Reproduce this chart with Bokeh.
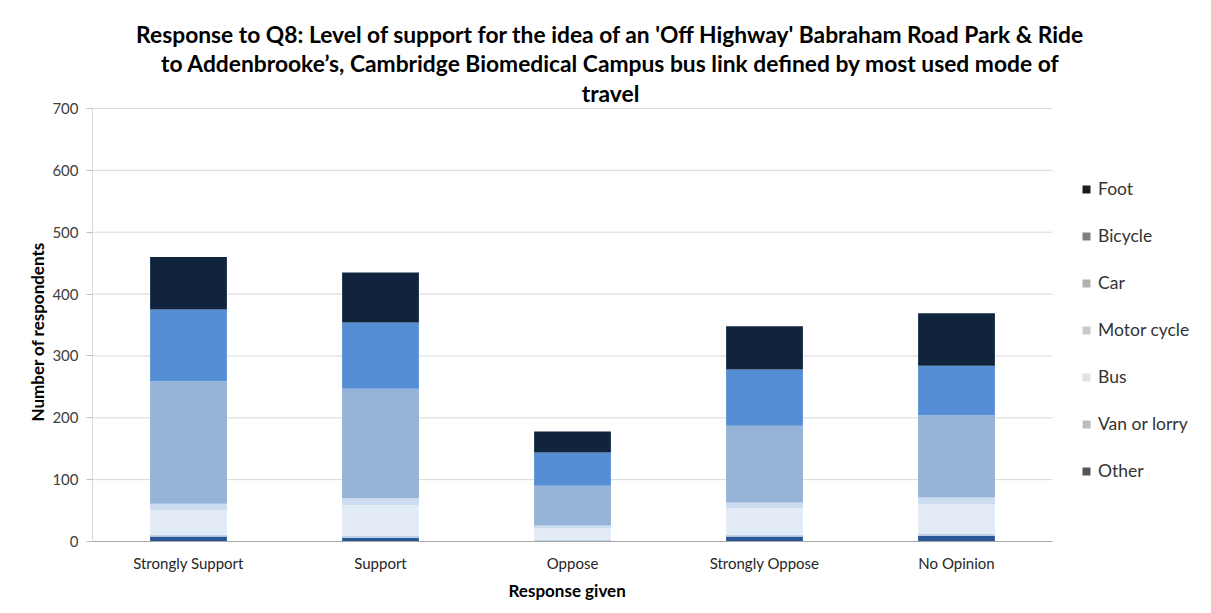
from bokeh.plotting import figure
from bokeh.models import Legend, LegendItem, Label, Title, FixedTicker, Range1d
from bokeh.embed import file_html
from bokeh.resources import INLINE

categories = ["Strongly Support", "Support", "Oppose", "Strongly Oppose", "No Opinion"]
modes = ["Other", "Van or lorry", "Bus", "Motor cycle", "Car", "Bicycle", "Foot"]
other = [8, 6, 1, 8, 9]
van_or_lorry = [3, 3, 2, 3, 3]
bus = [40, 50, 18, 43, 48]
motor_cycle = [10, 11, 5, 9, 11]
car = [198, 177, 64, 124, 133]
bicycle = [116, 107, 54, 91, 80]
foot = [85, 81, 34, 70, 85]
y_ticks = [0, 100, 200, 300, 400, 500, 600, 700]

bar_colors = ["#2B5797", "#BDD0E8", "#E3EBF6", "#CBDCF1", "#95B3D7", "#558ED5", "#10243E"]
legend_colors = ["#555555", "#bdbdbd", "#e2e2e2", "#cacaca", "#b2b2b2", "#808080", "#1c1c1c"]

title_lines = [
    "Response to Q8: Level of support for the idea of an 'Off Highway' Babraham Road Park & Ride",
    "to Addenbrooke\u2019s, Cambridge Biomedical Campus bus link defined by most used mode of",
    "travel",
]
y_title = "Number of respondents"
x_title = "Response given"

FONT = "Lato"
W, H = 1211, 613
ML, MR, MT, MB = 92, 8, 10, 72
FW, FH = W - ML - MR, H - MT - MB
PX_PER_CAT = 192.0          # horizontal pixels per category slot
PX_PER_UNIT = 433.0 / 700   # vertical pixels per respondent

n = len(categories)
xs = list(range(n))
x_end = -0.5 + FW / PX_PER_CAT
y_end = FH / PX_PER_UNIT

data = dict(x=xs, Other=other, **{"Van or lorry": van_or_lorry}, Bus=bus,
            **{"Motor cycle": motor_cycle}, Car=car, Bicycle=bicycle, Foot=foot)

p = figure(x_range=Range1d(-0.5, x_end), y_range=Range1d(0, y_end), width=W, height=H,
           output_backend="svg", toolbar_location=None,
           min_border_left=ML, min_border_right=MR, min_border_top=MT, min_border_bottom=MB)

# horizontal gridlines across the category area only
p.segment(x0=[-0.5] * len(y_ticks), x1=[n - 0.5] * len(y_ticks), y0=y_ticks, y1=y_ticks,
          line_color="#D9D9D9", line_width=1)

p.vbar_stack(modes, x="x", width=0.4, color=bar_colors, line_color=None, source=data)

# legend swatches (grey as in the reference); zero-height bars, only the legend shows them
items = []
for m, c in zip(modes, legend_colors):
    r = p.vbar(x=[0], top=[0], bottom=[0], width=0.4, fill_color=c, line_color=None)
    items.append(LegendItem(label=m, renderers=[r]))
items = items[::-1]
legend = Legend(items=items, location=(989, 60), orientation="vertical",
                glyph_width=10, glyph_height=10, label_height=20, spacing=26,
                padding=10, margin=0, label_standoff=7,
                label_text_font=FONT, label_text_font_size="17.5px", label_text_color="#333333",
                background_fill_alpha=0, border_line_color=None)
p.add_layout(legend, "center")

p.outline_line_color = None
p.background_fill_color = "white"
p.border_fill_color = "white"
p.xgrid.grid_line_color = None
p.ygrid.grid_line_color = None

p.yaxis.ticker = FixedTicker(ticks=y_ticks)
p.yaxis.bounds = (0, 700)
p.yaxis.axis_line_color = "#D9D9D9"
p.yaxis.major_tick_line_color = "#BFBFBF"
p.yaxis.major_tick_out = 6
p.yaxis.major_tick_in = 0
p.yaxis.minor_tick_line_color = None
p.yaxis.major_label_text_font = FONT
p.yaxis.major_label_text_font_size = "15px"
p.yaxis.major_label_text_color = "#404040"
p.yaxis.major_label_standoff = 8

p.xaxis.ticker = FixedTicker(ticks=xs)
p.xaxis.major_label_overrides = {i: c for i, c in zip(xs, categories)}
p.xaxis.bounds = (-0.5, n - 0.5)
p.xaxis.axis_line_color = "#A6A6A6"
p.xaxis.major_tick_line_color = None
p.xaxis.minor_tick_line_color = None
p.xaxis.major_label_text_font = FONT
p.xaxis.major_label_text_font_size = "15px"
p.xaxis.major_label_text_color = "#262626"
p.xaxis.major_label_standoff = 6

# axis titles, placed along the plotted area (not the whole frame)
p.add_layout(Title(text=y_title, align="left", offset=120, standoff=4,
                   text_font=FONT, text_font_size="17px", text_font_style="bold",
                   text_color="#000000"), "left")
p.add_layout(Title(text=x_title, align="left", offset=416, standoff=6,
                   text_font=FONT, text_font_size="17px", text_font_style="bold",
                   text_color="#000000"), "below")

# three title lines, centred above the chart
for line, top_px in zip(title_lines, [33, 62, 92]):
    p.add_layout(Label(x=610 - ML, y=H - MB - top_px, x_units="screen", y_units="screen",
                       text=line, text_align="center", text_baseline="middle",
                       text_font=FONT, text_font_size="22.8px", text_font_style="bold",
                       text_color="#000000"))

open("out.html", "w").write(file_html(p, INLINE))
